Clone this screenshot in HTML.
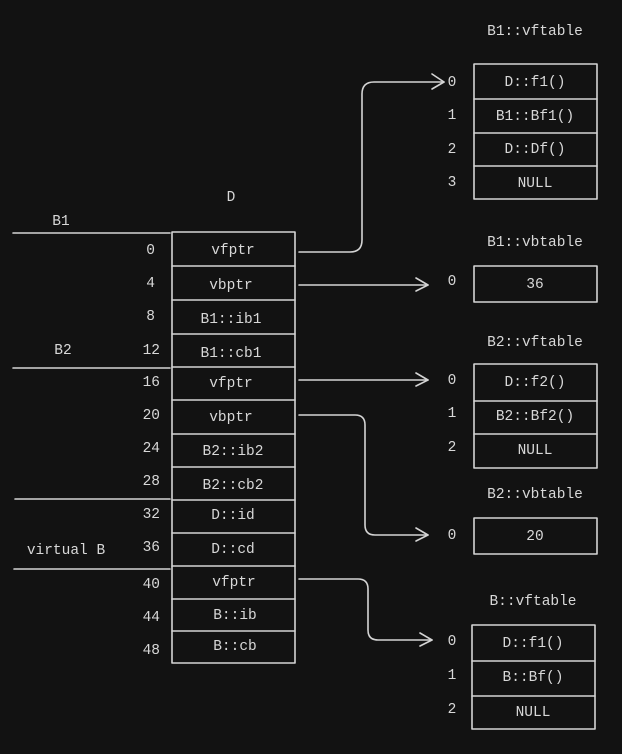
<!DOCTYPE html>
<html><head><meta charset="utf-8"><style>
html,body{margin:0;padding:0;background:#121212;}
svg{display:block}
text{font-family:"Liberation Mono",monospace;font-size:14.5px;fill:#d8d8d8;text-anchor:middle;dominant-baseline:middle}
.l{stroke:#d4d4d4;stroke-width:1.6;fill:none;stroke-linecap:round;stroke-linejoin:round}
</style></head><body>
<svg width="622" height="754" viewBox="0 0 622 754" xmlns="http://www.w3.org/2000/svg">
<rect width="622" height="754" fill="#121212"/>
<!-- D table -->
<text x="231" y="197">D</text>
<g class="l">
<rect x="172" y="232" width="123" height="431"/>
<line x1="172" y1="266" x2="295" y2="266"/>
<line x1="172" y1="300" x2="295" y2="300"/>
<line x1="172" y1="334" x2="295" y2="334"/>
<line x1="172" y1="367" x2="295" y2="367"/>
<line x1="172" y1="400" x2="295" y2="400"/>
<line x1="172" y1="434" x2="295" y2="434"/>
<line x1="172" y1="467" x2="295" y2="467"/>
<line x1="172" y1="500" x2="295" y2="500"/>
<line x1="172" y1="533" x2="295" y2="533"/>
<line x1="172" y1="566" x2="295" y2="566"/>
<line x1="172" y1="599" x2="295" y2="599"/>
<line x1="172" y1="631" x2="295" y2="631"/>
<!-- left lines -->
<line x1="13" y1="233" x2="170" y2="233"/>
<line x1="13" y1="368" x2="170" y2="368"/>
<line x1="15" y1="499" x2="170" y2="499"/>
<line x1="14" y1="569" x2="170" y2="569"/>
</g>
<text x="61" y="221">B1</text>
<text x="63" y="350">B2</text>
<text x="66" y="550">virtual B</text>
<g>
<text x="233" y="250">vfptr</text>
<text x="231" y="285">vbptr</text>
<text x="231" y="319">B1::ib1</text>
<text x="231" y="353">B1::cb1</text>
<text x="231" y="383">vfptr</text>
<text x="231" y="417">vbptr</text>
<text x="233" y="451">B2::ib2</text>
<text x="233" y="485">B2::cb2</text>
<text x="233" y="515">D::id</text>
<text x="233" y="549">D::cd</text>
<text x="234" y="582">vfptr</text>
<text x="235" y="615">B::ib</text>
<text x="235" y="646">B::cb</text>
</g>
<g style="text-anchor:end">
<text x="155" y="250" style="text-anchor:end">0</text>
<text x="155" y="283" style="text-anchor:end">4</text>
<text x="155" y="316" style="text-anchor:end">8</text>
<text x="160" y="350" style="text-anchor:end">12</text>
<text x="160" y="382" style="text-anchor:end">16</text>
<text x="160" y="415" style="text-anchor:end">20</text>
<text x="160" y="448" style="text-anchor:end">24</text>
<text x="160" y="481" style="text-anchor:end">28</text>
<text x="160" y="514" style="text-anchor:end">32</text>
<text x="160" y="547" style="text-anchor:end">36</text>
<text x="160" y="584" style="text-anchor:end">40</text>
<text x="160" y="617" style="text-anchor:end">44</text>
<text x="160" y="650" style="text-anchor:end">48</text>
</g>
<!-- B1::vftable -->
<text x="535" y="31">B1::vftable</text>
<g class="l">
<rect x="474" y="64" width="123" height="135"/>
<line x1="474" y1="99" x2="597" y2="99"/>
<line x1="474" y1="133" x2="597" y2="133"/>
<line x1="474" y1="166" x2="597" y2="166"/>
</g>
<text x="535" y="82">D::f1()</text>
<text x="535" y="116">B1::Bf1()</text>
<text x="535" y="149">D::Df()</text>
<text x="535" y="183">NULL</text>
<text x="452" y="82">0</text><text x="452" y="115">1</text><text x="452" y="149">2</text><text x="452" y="182">3</text>
<!-- B1::vbtable -->
<text x="535" y="242">B1::vbtable</text>
<rect class="l" x="474" y="266" width="123" height="36"/>
<text x="535" y="284">36</text>
<text x="452" y="281">0</text>
<!-- B2::vftable -->
<text x="535" y="342">B2::vftable</text>
<g class="l">
<rect x="474" y="364" width="123" height="104"/>
<line x1="474" y1="401" x2="597" y2="401"/>
<line x1="474" y1="434" x2="597" y2="434"/>
</g>
<text x="535" y="382">D::f2()</text>
<text x="535" y="416">B2::Bf2()</text>
<text x="535" y="450">NULL</text>
<text x="452" y="380">0</text><text x="452" y="413">1</text><text x="452" y="447">2</text>
<!-- B2::vbtable -->
<text x="535" y="494">B2::vbtable</text>
<rect class="l" x="474" y="518" width="123" height="36"/>
<text x="535" y="536">20</text>
<text x="452" y="535">0</text>
<!-- B::vftable -->
<text x="533" y="601">B::vftable</text>
<g class="l">
<rect x="472" y="625" width="123" height="104"/>
<line x1="472" y1="661" x2="595" y2="661"/>
<line x1="472" y1="696" x2="595" y2="696"/>
</g>
<text x="533" y="643">D::f1()</text>
<text x="533" y="677">B::Bf()</text>
<text x="533" y="712">NULL</text>
<text x="452" y="641">0</text><text x="452" y="675">1</text><text x="452" y="709">2</text>
<!-- arrows -->
<g class="l">
<path d="M299 252 H350 Q362 252 362 240 V94 Q362 82 374 82 H444"/>
<path d="M432 74 L444 82 L432 89"/>
<path d="M299 285 H428"/>
<path d="M416 278 L428 285 L416 291"/>
<path d="M299 380 H428"/>
<path d="M416 373 L428 380 L416 386"/>
<path d="M299 415 H355 Q365 415 365 425 V525 Q365 535 375 535 H428"/>
<path d="M416 528 L428 535 L416 541"/>
<path d="M299 579 H358 Q368 579 368 589 V630 Q368 640 378 640 H432"/>
<path d="M420 633 L432 640 L420 646"/>
</g>
</svg>
</body></html>
